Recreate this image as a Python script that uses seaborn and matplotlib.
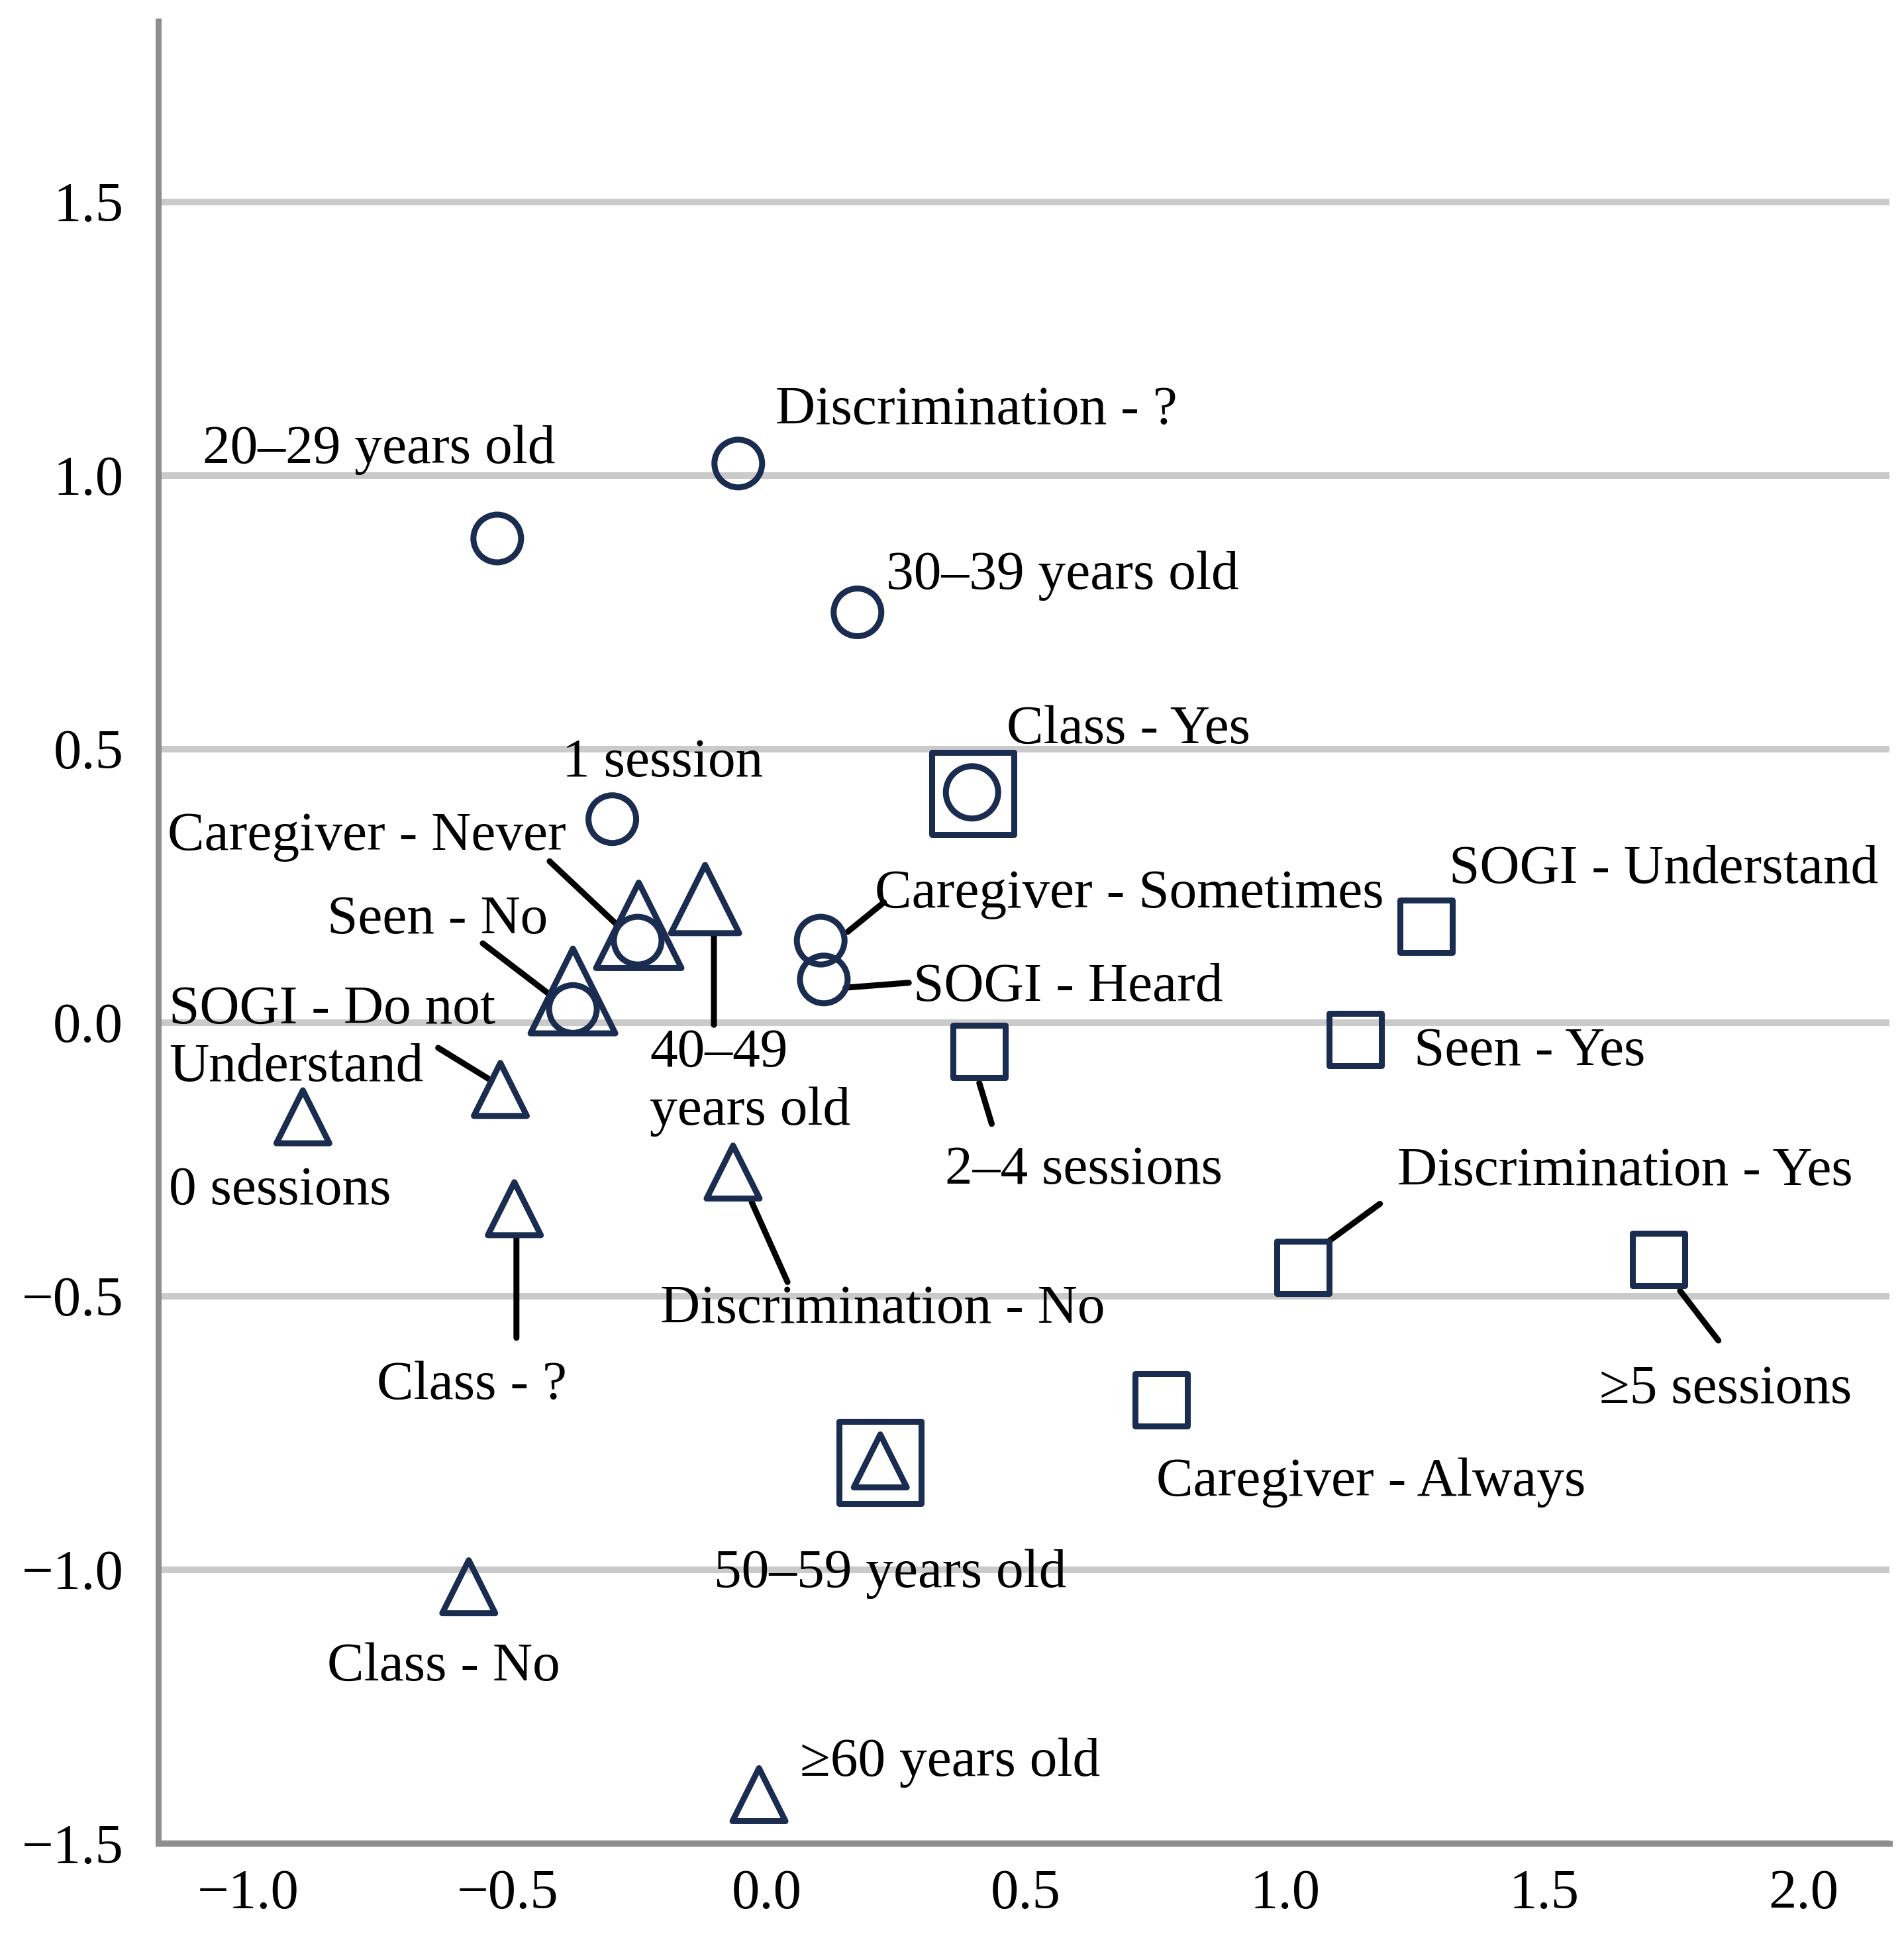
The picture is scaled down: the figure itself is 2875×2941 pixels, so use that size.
import numpy as np
import pandas as pd
import matplotlib
matplotlib.use("Agg")
import matplotlib.pyplot as plt
import seaborn as sns

# ---------------- data ----------------
CIRCLE_LABELS = ["20–29 years old", "Discrimination - ?", "30–39 years old", "Class - Yes",
                 "1 session", "Caregiver - Never", "Seen - No", "Caregiver - Sometimes",
                 "SOGI - Heard"]
CIRCLE_X = [-0.520, -0.055, 0.175, 0.396, -0.298, -0.249, -0.374, 0.104, 0.110]
CIRCLE_Y = [0.885, 1.022, 0.750, 0.421, 0.372, 0.150, 0.025, 0.150, 0.079]

TRIANGLE_LABELS = ["Caregiver - Never", "40–49 years old", "Seen - No",
                   "SOGI - Do not Understand", "0 sessions", "Class - ?",
                   "Discrimination - No", "50–59 years old", "Class - No", "≥60 years old"]
TRIANGLE_X = [-0.247, -0.119, -0.374, -0.514, -0.895, -0.487, -0.065, 0.219, -0.575, -0.015]
TRIANGLE_Y = [0.178, 0.226, 0.058, -0.122, -0.172, -0.340, -0.273, -0.801, -1.031, -1.411]

SQUARE_LABELS = ["Class - Yes", "50–59 years old", "SOGI - Understand", "Seen - Yes",
                 "2–4 sessions", "Discrimination - Yes", "≥5 sessions", "Caregiver - Always"]
SQUARE_X = [0.398, 0.219, 1.272, 1.135, 0.410, 1.034, 1.721, 0.761]
SQUARE_Y = [0.419, -0.804, 0.176, -0.031, -0.053, -0.447, -0.433, -0.690]

X_TICKS = [-1.0, -0.5, 0.0, 0.5, 1.0, 1.5, 2.0]
Y_TICKS = [-1.5, -1.0, -0.5, 0.0, 0.5, 1.0, 1.5]

# ---------------- style / layout ----------------
NAVY = "#1a2c50"
DPI = 200
PX = 72.0 / DPI  # points per pixel
MARKER_LW = 9 * PX

# marker size (path width in pixels)
CIRCLE_PX = {"default": 72, "Class - Yes": 79}
TRIANGLE_PX = {"default": 80, "Caregiver - Never": 129, "Seen - No": 128, "40–49 years old": 103}
SQUARE_PX = {"default": 79, "Class - Yes": 124, "50–59 years old": 124}

# label layout: (left x, baseline y) in data coords, and display text
LABEL_LAYOUT = {
    "Discrimination - ?": (0.017, 1.094, "Discrimination - ?"),
    "20–29 years old": (-1.088, 1.023, "20–29 years old"),
    "30–39 years old": (0.230, 0.793, "30–39 years old"),
    "Class - Yes": (0.463, 0.511, "Class - Yes"),
    "1 session": (-0.394, 0.450, "1 session"),
    "Caregiver - Never": (-1.156, 0.316, "Caregiver - Never"),
    "Seen - No": (-0.848, 0.163, "Seen - No"),
    "Caregiver - Sometimes": (0.209, 0.211, "Caregiver - Sometimes"),
    "SOGI - Understand": (1.316, 0.256, "SOGI - Understand"),
    "SOGI - Heard": (0.283, 0.040, "SOGI - Heard"),
    "SOGI - Do not Understand": (-1.153, -0.001, "SOGI - Do not\nUnderstand"),
    "40–49 years old": (-0.226, -0.080, "40–49\nyears old"),
    "0 sessions": (-1.153, -0.332, "0 sessions"),
    "2–4 sessions": (0.344, -0.294, "2–4 sessions"),
    "Seen - Yes": (1.249, -0.078, "Seen - Yes"),
    "Discrimination - Yes": (1.217, -0.297, "Discrimination - Yes"),
    "Discrimination - No": (-0.205, -0.549, "Discrimination - No"),
    "Class - ?": (-0.752, -0.688, "Class - ?"),
    "≥5 sessions": (1.606, -0.695, "≥5 sessions"),
    "Caregiver - Always": (0.752, -0.865, "Caregiver - Always"),
    "50–59 years old": (-0.102, -1.031, "50–59 years old"),
    "Class - No": (-0.848, -1.202, "Class - No"),
    "≥60 years old": (0.064, -1.377, "≥60 years old"),
}
LINE_GAP_PT = 31.5

# leader lines: (start, end) in data coords
LEADERS = [
    ((-0.419, 0.295), (-0.288, 0.178)),
    ((-0.548, 0.145), (-0.414, 0.048)),
    ((-0.102, 0.162), (-0.102, -0.004)),
    ((0.156, 0.166), (0.226, 0.220)),
    ((0.152, 0.064), (0.274, 0.073)),
    ((-0.634, -0.046), (-0.531, -0.106)),
    ((-0.483, -0.391), (-0.483, -0.576)),
    ((0.410, -0.110), (0.434, -0.185)),
    ((-0.029, -0.328), (0.040, -0.474)),
    ((1.082, -0.401), (1.183, -0.331)),
    ((1.762, -0.490), (1.836, -0.581)),
]

sns.set_style("white")
plt.rcParams["font.family"] = ["Liberation Serif", "DejaVu Serif"]
plt.rcParams["axes.unicode_minus"] = True

fig = plt.figure(figsize=(2875 / DPI, 2941 / DPI), dpi=DPI)
ax = fig.add_axes([239 / 2875, 1 - 2783 / 2941, (2853 - 239) / 2875, (2783 - 32) / 2941])


def sizes_for(labels, table):
    return [(table.get(l, table["default"]) * PX) ** 2 for l in labels]


groups = [
    (CIRCLE_LABELS, CIRCLE_X, CIRCLE_Y, "o", CIRCLE_PX),
    (TRIANGLE_LABELS, TRIANGLE_X, TRIANGLE_Y, "^", TRIANGLE_PX),
    (SQUARE_LABELS, SQUARE_X, SQUARE_Y, "s", SQUARE_PX),
]
for labels, xs, ys, mk, table in groups:
    df = pd.DataFrame({"label": labels, "x": xs, "y": ys})
    sns.scatterplot(data=df, x="x", y="y", ax=ax, marker=mk,
                    s=sizes_for(labels, table), facecolor="none",
                    edgecolor=NAVY, linewidth=MARKER_LW, zorder=4, legend=False)

# leader lines
for (x0, y0), (x1, y1) in LEADERS:
    ax.annotate("", xy=(x1, y1), xytext=(x0, y0),
                arrowprops=dict(arrowstyle="-", color="black", lw=9 * PX,
                                shrinkA=0, shrinkB=0), zorder=3)

# labels
for key, (tx, ty, text) in LABEL_LAYOUT.items():
    for i, line in enumerate(text.split("\n")):
        ax.annotate(line, xy=(tx, ty), xytext=(0, -i * LINE_GAP_PT),
                    textcoords="offset points", ha="left", va="baseline",
                    fontsize=30, color="black", zorder=5)

ax.set_xlim(-1.174, 2.166)
ax.set_ylim(-1.5, 1.8305)
ax.set_xticks(X_TICKS)
ax.set_yticks(Y_TICKS)
ax.set_xticklabels([f"{v:.1f}".replace("-", "\u2212") for v in X_TICKS])
ax.set_yticklabels([f"{v:.1f}".replace("-", "\u2212") for v in Y_TICKS])
ax.set_xlabel("")
ax.set_ylabel("")
ax.tick_params(axis="both", length=0, labelsize=30.5, colors="black")
ax.tick_params(axis="y", pad=19)
ax.tick_params(axis="x", pad=14)

ax.yaxis.grid(True, color="#cacaca", linewidth=10 * PX, zorder=0)
ax.xaxis.grid(False)
ax.set_axisbelow(True)
for side in ["top", "right"]:
    ax.spines[side].set_visible(False)
for side in ["left", "bottom"]:
    ax.spines[side].set_color("#8e8e8e")
    ax.spines[side].set_linewidth(9 * PX)

fig.savefig("out.png", dpi=DPI, facecolor="white")
